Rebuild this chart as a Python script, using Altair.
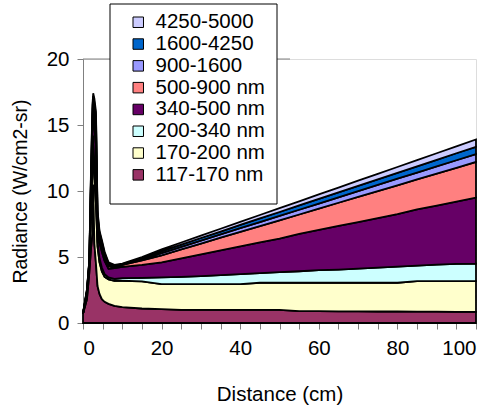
import altair as alt
import pandas as pd

# Distance (cm)
x_cm = [0, 1, 1.6, 2.0, 2.4, 2.6, 2.9, 3.3, 3.7, 4.2, 4.8, 5.5, 6.5, 8, 10, 15,
        20, 25, 30, 35, 40, 45, 50, 55, 60, 65, 70, 75, 80, 85, 90, 95, 100]

# per-band radiance (W/cm2-sr), stacked bottom to top
b117_170 = [0.7, 1.8, 3.8, 5.5, 6.8, 10.5, 6.0, 4.5, 2.8, 2.2, 1.8, 1.6, 1.45, 1.3, 1.2, 1.1,
            1.05, 1.0, 1.0, 1.0, 1.0, 1.0, 1.0, 0.9, 0.9, 0.88, 0.88, 0.87, 0.87, 0.86, 0.86, 0.85, 0.85]
b170_200 = [0.0, 0.4, 0.5, 2.5, 4.7, 3.0, 5.0, 4.5, 3.0, 2.4, 2.1, 1.9, 1.85, 1.9, 2.0, 2.05,
            1.9, 1.95, 1.95, 1.95, 1.95, 2.05, 2.05, 2.15, 2.15, 2.17, 2.17, 2.18, 2.18, 2.31, 2.31, 2.32, 2.32]
b200_340 = [0.0, 0.1, 0.1, 0.5, 0.8, 0.7, 1.0, 1.0, 0.4, 0.3, 0.3, 0.2, 0.15, 0.15, 0.2, 0.27,
            0.5, 0.55, 0.6, 0.67, 0.75, 0.73, 0.8, 0.87, 0.95, 1.0, 1.07, 1.15, 1.22, 1.18, 1.25, 1.31, 1.33]
b340_500 = [0.0, 0.1, 0.2, 1.5, 2.2, 1.8, 2.8, 3.5, 1.3, 1.2, 1.2, 1.0, 0.65, 0.8, 0.85, 0.98,
            1.15, 1.4, 1.65, 1.88, 2.1, 2.32, 2.55, 2.83, 3.05, 3.3, 3.53, 3.75, 3.98, 4.25, 4.48, 4.72, 5.0]
b500_900 = [0.0, 0.0, 0.0, 0.3, 0.7, 0.6, 1.0, 1.1, 0.4, 0.4, 0.4, 0.3, 0.2, 0.05, 0.15, 0.35,
            0.53, 0.67, 0.81, 0.96, 1.1, 1.24, 1.38, 1.47, 1.62, 1.76, 1.9, 2.04, 2.18, 2.28, 2.42, 2.56, 2.7]
b900_1600 = [0.0, 0.05, 0.05, 0.2, 0.5, 0.3, 0.5, 0.6, 0.2, 0.2, 0.2, 0.15, 0.1, 0.07, 0.03, 0.08,
             0.17, 0.2, 0.23, 0.25, 0.28, 0.3, 0.33, 0.36, 0.38, 0.41, 0.44, 0.47, 0.5, 0.51, 0.54, 0.57, 0.6]
b1600_4250 = [0.0, 0.05, 0.05, 0.3, 0.5, 0.3, 0.4, 0.5, 0.2, 0.15, 0.15, 0.15, 0.1, 0.06, 0.04, 0.09,
              0.15, 0.17, 0.2, 0.22, 0.25, 0.28, 0.3, 0.33, 0.35, 0.37, 0.4, 0.42, 0.45, 0.48, 0.5, 0.53, 0.55]
b4250_5000 = [0.05, 0.05, 0.05, 0.2, 0.3, 0.2, 0.3, 0.3, 0.2, 0.15, 0.15, 0.1, 0.1, 0.07, 0.03, 0.08,
              0.13, 0.16, 0.18, 0.21, 0.23, 0.26, 0.29, 0.31, 0.34, 0.37, 0.39, 0.42, 0.44, 0.47, 0.5, 0.52, 0.55]

band_names = ["117-170 nm", "170-200 nm", "200-340 nm", "340-500 nm",
              "500-900 nm", "900-1600", "1600-4250", "4250-5000"]
band_colors = ["#993366", "#FFFFCC", "#CCFFFF", "#660066",
               "#FF8080", "#9999FF", "#0066CC", "#CCCCFF"]
band_values = [b117_170, b170_200, b200_340, b340_500,
               b500_900, b900_1600, b1600_4250, b4250_5000]

rows = []
for k, (name, vals) in enumerate(zip(band_names, band_values)):
    for xv, v in zip(x_cm, vals):
        rows.append({"x": xv, "v": v, "band": name, "k": k})
df = pd.DataFrame(rows)

FONT = "Liberation Sans"
GRAY = "#808080"

legend_order = band_names[::-1]
legend_colors = band_colors[::-1]

area = alt.Chart(df).mark_area(stroke="black", strokeWidth=1.8, opacity=1).encode(
    x=alt.X("x:Q", scale=alt.Scale(domain=[0, 100], nice=False),
            axis=alt.Axis(values=list(range(0, 101, 5)),
                          labelExpr="datum.value % 20 === 0 ? datum.label : ''",
                          tickSize=6, labelPadding=9, grid=False,
                          domainColor=GRAY, tickColor=GRAY,
                          labelFontSize=20.5, titleFontSize=20.5,
                          titleFontWeight="normal", titlePadding=26,
                          title="Distance (cm)")),
    y=alt.Y("v:Q", stack="zero", scale=alt.Scale(domain=[0, 20], nice=False),
            axis=alt.Axis(values=[0, 5, 10, 15, 20], tickSize=6, labelPadding=8,
                          grid=False, domainColor=GRAY, tickColor=GRAY,
                          labelFontSize=20.5, titleFontSize=19.5,
                          titleFontWeight="normal", titlePadding=16,
                          title="Radiance (W/cm2-sr)")),
    color=alt.Color("band:N",
                    scale=alt.Scale(domain=legend_order, range=legend_colors),
                    legend=alt.Legend(orient="none", legendX=45, legendY=-47,
                                      title=None, symbolType="square",
                                      symbolSize=110, symbolStrokeColor="black",
                                      symbolStrokeWidth=1, symbolOpacity=1,
                                      labelFontSize=20.5, labelFont=FONT,
                                      labelOffset=7, rowPadding=0.8, padding=0)),
    order=alt.Order("k:Q", sort="ascending"),
)

top_line = alt.Chart(pd.DataFrame({"a": [0]})).mark_rule(color=GRAY, strokeWidth=1).encode(
    x=alt.value(0), x2=alt.value(207), y=alt.value(0))

legend_box = alt.Chart(pd.DataFrame({"a": [0]})).mark_rect(
    fill="white", stroke="black", strokeWidth=1).encode(
    x=alt.value(27), x2=alt.value(194), y=alt.value(-55), y2=alt.value(145))

chart = alt.layer(top_line, legend_box, area).properties(
    width=393, height=264,
    autosize=alt.AutoSizeParams(type="none"),
    padding={"left": 83, "top": 59, "right": 19, "bottom": 86},
).configure_view(stroke=None).configure_axis(
    labelFont=FONT, titleFont=FONT, labelColor="black", titleColor="black"
).configure(background="white")

chart.save("out.html", embed_options={"renderer": "svg", "actions": False})
